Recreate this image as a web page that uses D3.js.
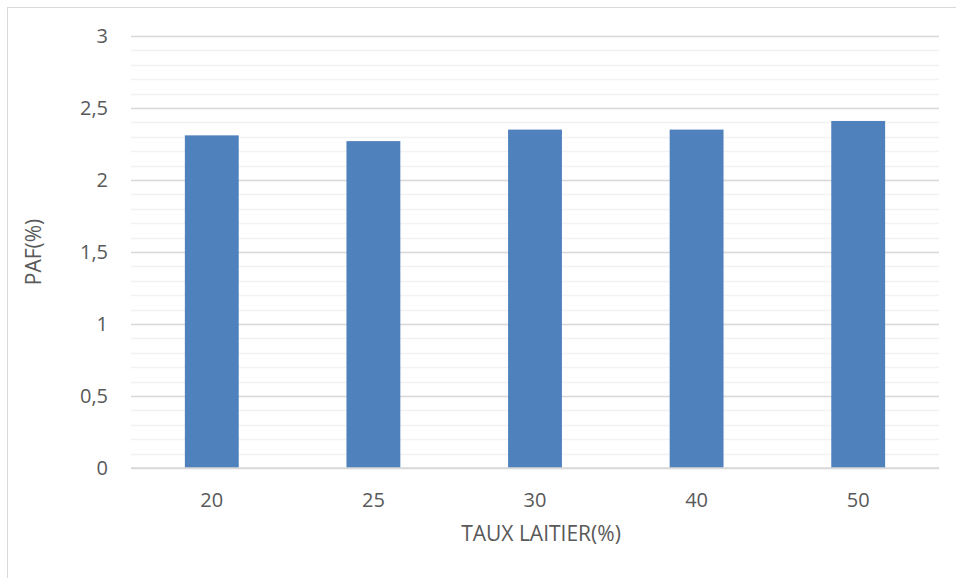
<!DOCTYPE html>
<html>
<head>
<meta charset="utf-8">
<script src="https://cdn.jsdelivr.net/npm/d3@7"></script>
<style>
  body { margin: 0; background: #fff; }
  svg text { font-family: "Open Sans", "Noto Sans", sans-serif; fill: #595959; }
</style>
</head>
<body>
<svg width="956" height="578"></svg>
<script>
// data
var categories = ['20', '25', '30', '40', '50'];
var pafValues = [2.31, 2.27, 2.35, 2.35, 2.41];
var yTicks = [0, 0.5, 1, 1.5, 2, 2.5, 3];
var minorTicks = d3.range(0, 31).map(function (d) { return d / 10; });

var svg = d3.select('svg');
var margin = { left: 131, right: 17, top: 36, bottom: 110 };
var width = 956, height = 578;

// chart area border
svg.append('rect')
	.attr('x', 7.5).attr('y', 7.5)
	.attr('width', 960).attr('height', 600)
	.attr('fill', 'none')
	.attr('stroke', '#d9d9d9');

var x = d3.scaleBand()
	.domain(categories)
	.range([margin.left, width - margin.right])
	.paddingInner(2 / 3)
	.paddingOuter(1 / 3);

var y = d3.scaleLinear()
	.domain([0, 3])
	.range([height - margin.bottom, margin.top]);

// minor gridlines
svg.append('g')
	.selectAll('line')
	.data(minorTicks)
	.join('line')
	.attr('x1', margin.left).attr('x2', width - margin.right)
	.attr('y1', function (d) { return Math.round(y(d)) + 0.5; })
	.attr('y2', function (d) { return Math.round(y(d)) + 0.5; })
	.attr('stroke', '#f2f2f2')
	.attr('stroke-width', 1.5);

// major gridlines + labels via axis
var yAxis = svg.append('g')
	.attr('transform', 'translate(' + margin.left + ',0)')
	.call(d3.axisLeft(y)
		.tickValues(yTicks)
		.tickSize(-(width - margin.left - margin.right))
		.tickPadding(23)
		.tickFormat(function (d) { return String(d).replace('.', ','); }));
yAxis.attr('font-family', null).attr('font-size', null);
yAxis.select('.domain').remove();
yAxis.selectAll('line').attr('stroke', '#d9d9d9').attr('stroke-width', 1.5);
yAxis.selectAll('text').style('font-size', '20px');

// bars
svg.append('g')
	.selectAll('rect')
	.data(pafValues)
	.join('rect')
	.attr('x', function (d, i) { return x(categories[i]); })
	.attr('width', x.bandwidth())
	.attr('y', function (d) { return y(d); })
	.attr('height', function (d) { return y(0) - y(d); })
	.attr('fill', '#4f81bd');

// x axis
var xAxis = svg.append('g')
	.attr('transform', 'translate(0,' + y(0) + ')')
	.call(d3.axisBottom(x).tickSize(0).tickPadding(25));
xAxis.attr('font-family', null).attr('font-size', null);
xAxis.select('.domain')
	.attr('stroke', '#d9d9d9').attr('stroke-width', 1.5)
	.attr('d', 'M' + margin.left + ',0H' + (width - margin.right));
xAxis.selectAll('text').style('font-size', '20px');

// axis titles
svg.append('text')
	.attr('x', 541)
	.attr('y', 541)
	.attr('text-anchor', 'middle')
	.style('font-size', '21px')
	.text('TAUX LAITIER(%)');

svg.append('text')
	.attr('transform', 'translate(41,' + (height - margin.bottom + margin.top) / 2 + ') rotate(-90)')
	.attr('text-anchor', 'middle')
	.style('font-size', '21px')
	.text('PAF(%)');
</script>
</body>
</html>
